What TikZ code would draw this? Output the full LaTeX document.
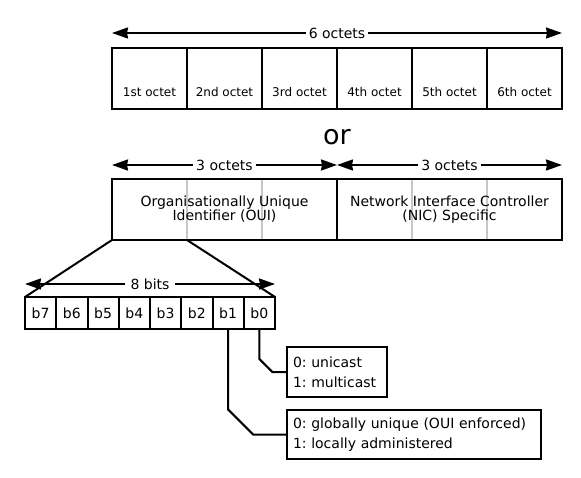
\documentclass[tikz,border=0pt]{standalone}
\usepackage{fontspec}
\setmainfont{DejaVu Sans}
\usetikzlibrary{arrows.meta, calc, backgrounds}
\tikzset{
    cell/.style={rectangle, draw=black, line width=2pt, inner sep=0pt, outer sep=0pt},
    octet/.style={cell, minimum width=75pt, minimum height=61pt},
    octlbl/.style={anchor=base, yshift=12pt, inner sep=0pt, font=\fontsize{12}{14}\selectfont},
    half/.style={cell, minimum width=225pt, minimum height=61pt, align=center, font=\fontsize{14}{14}\selectfont},
    bit/.style={cell, minimum width=31.25pt, minimum height=32pt, font=\fontsize{14}{16}\selectfont},
    note/.style={cell, anchor=west, align=left, inner xsep=6pt, font=\fontsize{14}{20}\selectfont\frenchspacing},
    dimarr/.style={{Stealth[length=16pt,width=11pt,inset=1pt]}-{Stealth[length=16pt,width=11pt,inset=1pt]}, line width=2pt},
    dimlbl/.style={fill=white, inner xsep=3pt, inner ysep=1pt, font=\fontsize{14}{16}\selectfont},
    link/.style={line width=2pt},
    divider/.style={line width=1.5pt, black!22}
}

\begin{document}
\begin{tikzpicture}[x=1pt, y=-1pt]
    \useasboundingbox (0,0) rectangle (581,478);

    % six octets
    \node[octet, label={[octlbl]south:1st octet}] (o1) at (149.5,78.5) {};
    \node[octet, label={[octlbl]south:2nd octet}] (o2) at (224.5,78.5) {};
    \node[octet, label={[octlbl]south:3rd octet}] (o3) at (299.5,78.5) {};
    \node[octet, label={[octlbl]south:4th octet}] (o4) at (374.5,78.5) {};
    \node[octet, label={[octlbl]south:5th octet}] (o5) at (449.5,78.5) {};
    \node[octet, label={[octlbl]south:6th octet}] (o6) at (524.5,78.5) {};
    \draw[dimarr] ([yshift=15pt]o1.north west) -- node[dimlbl] {6 octets} ([yshift=15pt]o6.north east);

    \node[font=\fontsize{27}{30}\selectfont] (or) at (337,137) {or};

    % OUI + NIC
    \node[half] (oui) at (224.5,209.5) {Organisationally Unique\\Identifier (OUI)};
    \node[half] (nic) at (449.5,209.5) {Network Interface Controller\\(NIC) Specific};
    \begin{scope}[on background layer]
        \draw[divider] ($(oui.north west)!1/3!(oui.north east)$) -- ($(oui.south west)!1/3!(oui.south east)$);
        \draw[divider] ($(oui.north west)!2/3!(oui.north east)$) -- ($(oui.south west)!2/3!(oui.south east)$);
        \draw[divider] ($(nic.north west)!1/3!(nic.north east)$) -- ($(nic.south west)!1/3!(nic.south east)$);
        \draw[divider] ($(nic.north west)!2/3!(nic.north east)$) -- ($(nic.south west)!2/3!(nic.south east)$);
    \end{scope}
    \draw[dimarr] ([yshift=14pt]oui.north west) -- node[dimlbl] {3 octets} ([yshift=14pt]oui.north east);
    \draw[dimarr] ([yshift=14pt]nic.north west) -- node[dimlbl] {3 octets} ([yshift=14pt]nic.north east);

    % first octet bits
    \node[bit] (b7) at (40.625,313) {b7};
    \node[bit] (b6) at (71.875,313) {b6};
    \node[bit] (b5) at (103.125,313) {b5};
    \node[bit] (b4) at (134.375,313) {b4};
    \node[bit] (b3) at (165.625,313) {b3};
    \node[bit] (b2) at (196.875,313) {b2};
    \node[bit] (b1) at (228.125,313) {b1};
    \node[bit] (b0) at (259.375,313) {b0};
    \draw[link] (oui.south west) -- (b7.north west);
    \draw[link] ($(oui.south west)!1/3!(oui.south east)$) -- (b0.north east);
    \draw[dimarr] ([yshift=13pt]b7.north west) -- node[dimlbl, inner xsep=6pt] {8 bits} ([yshift=13pt]b0.north east);

    % meaning of b0 and b1
    \node[note, minimum width=100pt, minimum height=50pt, text width=88pt] (cast) at (287,372) {0: unicast\\1: multicast};
    \node[note, minimum width=254pt, minimum height=49pt, text width=242pt] (admin) at (287,434.5) {0: globally unique (OUI enforced)\\1: locally administered};
    \draw[link] (b0.south) -- ($(b0.south |- cast.west)+(0,-13)$) -- ($(b0.south |- cast.west)+(13,0)$) -- (cast.west);
    \draw[link] (b1.south) -- ($(b1.south |- admin.west)+(0,-25)$) -- ($(b1.south |- admin.west)+(25,0)$) -- (admin.west);
\end{tikzpicture}
\end{document}
